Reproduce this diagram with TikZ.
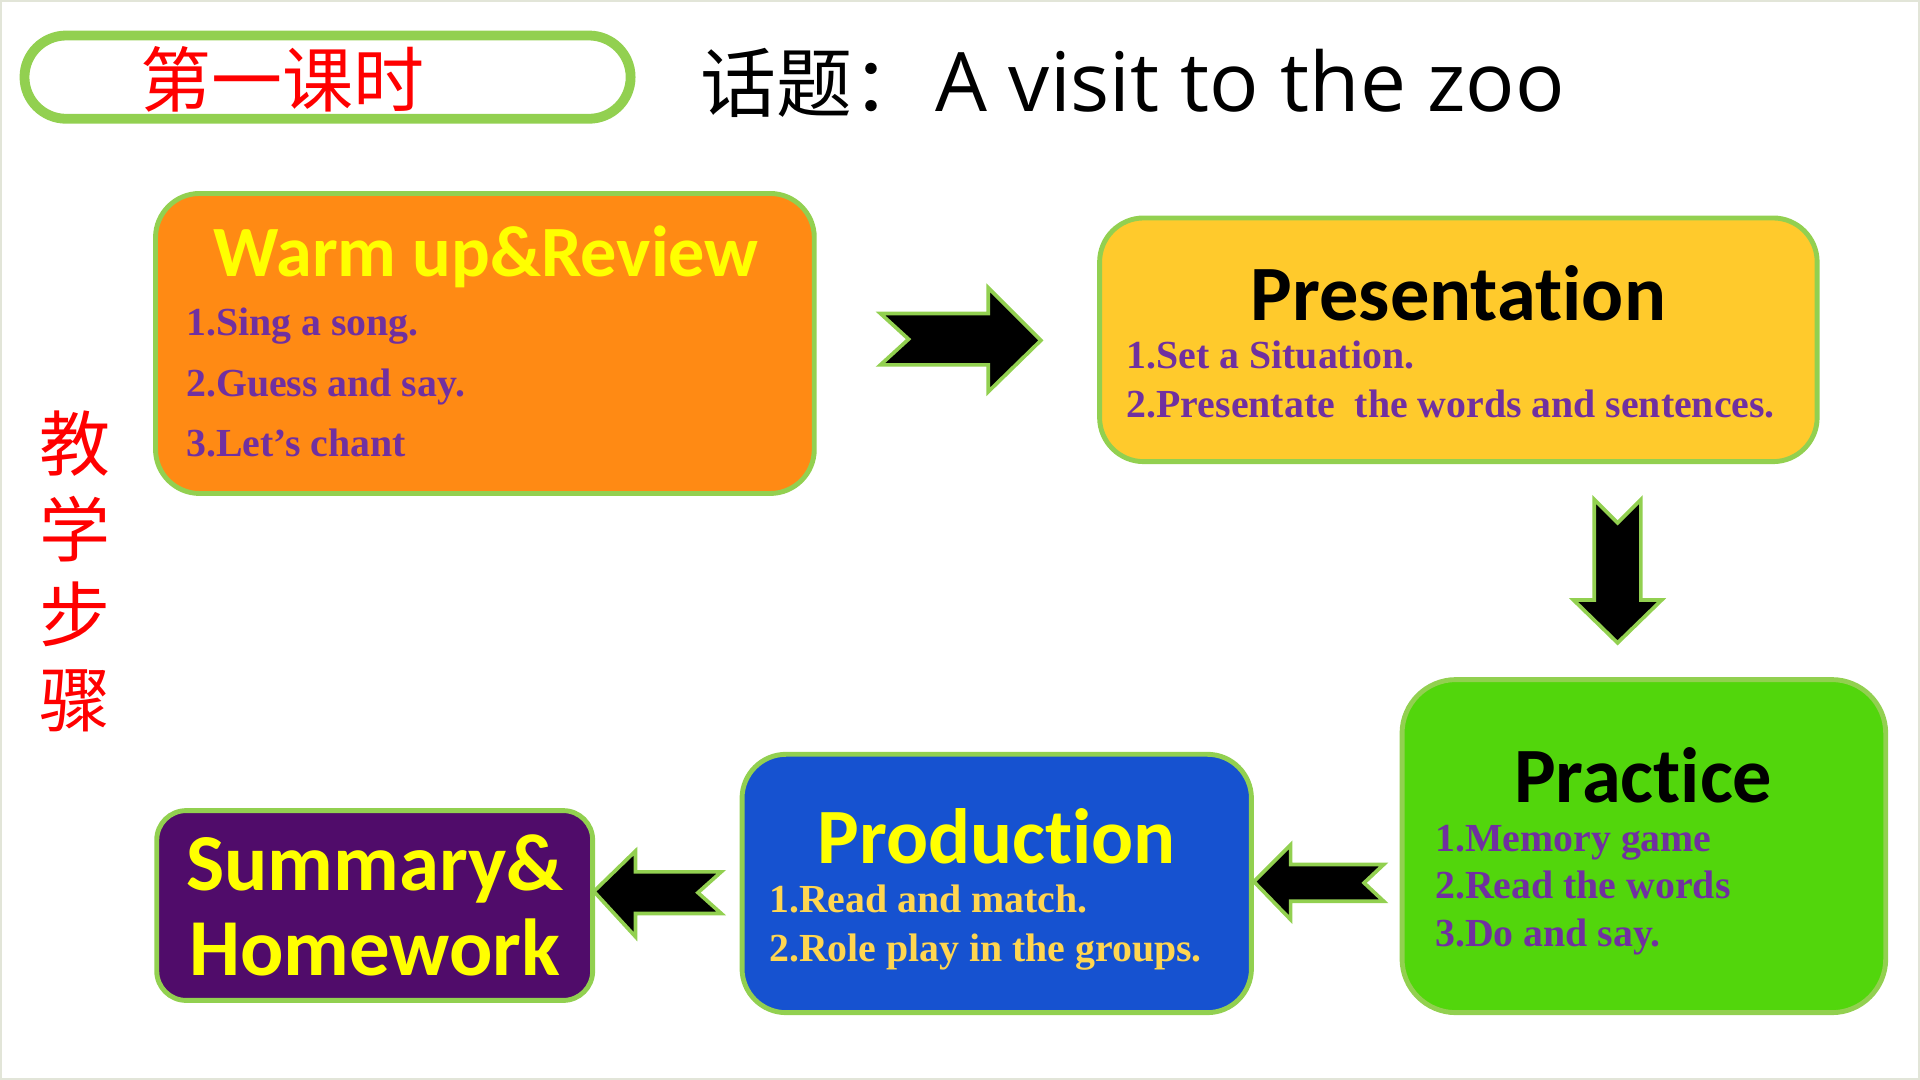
\documentclass[tikz,border=0pt]{standalone}
\usepackage{fontspec}
\setmainfont{Liberation Serif}
\newfontfamily\headfont[RawFeature={-liga,-clig,-dlig,-calt}]{Carlito}
\newfontfamily\cjk{Noto Sans CJK SC}
\newfontfamily\latin{Open Sans}
\usetikzlibrary{positioning}

\definecolor{lgreen}{RGB}{146,208,80}
\definecolor{warmfill}{RGB}{255,138,20}
\definecolor{presfill}{RGB}{255,202,44}
\definecolor{pracfill}{RGB}{82,214,12}
\definecolor{prodfill}{RGB}{22,82,208}
\definecolor{summfill}{RGB}{80,12,106}
\definecolor{itempurple}{RGB}{112,48,160}
\definecolor{itemgold}{RGB}{255,214,80}
\definecolor{hiyellow}{RGB}{255,255,0}
\definecolor{framegray}{RGB}{226,229,216}

\tikzset{
  stepbox/.style={draw=lgreen, line width=4pt, rounded corners=36pt, inner sep=0pt},
  heading/.style={anchor=base, inner sep=0pt, font=\headfont\bfseries\fontsize{64}{70}\selectfont},
  item/.style={anchor=base west, inner sep=0pt, font=\bfseries\fontsize{32.5}{36}\selectfont},
  blkarrow/.style={fill=black, draw=lgreen, line width=3pt, line join=miter},
  redcjk/.style={text=red, inner sep=0pt, font=\cjk\fontsize{58}{60}\selectfont}
}

\begin{document}
\begin{tikzpicture}[x=1pt, y=-1pt]
\useasboundingbox (0,0) rectangle (1568,882);
\draw[framegray, line width=1.5pt] (0.75,0.75) rectangle (1567.25,881.25);

% title line
\node[draw=lgreen, line width=8pt, rounded corners=34pt, minimum width=495pt, minimum height=68pt, inner sep=0pt] (pill) at (267.5,63) {};
\node[redcjk] (lesson) at (231,65) {第一课时};
\node[anchor=base west, inner sep=0pt, font=\cjk\fontsize{62}{66}\selectfont] (topic) at (572,91) {话题：\hspace{6pt}{\latin\fontsize{67}{70}\selectfont A visit to the zoo}};

\foreach \ch [count=\i] in {教,学,步,骤}
  \node[redcjk] (side\i) at (61,{292+70*\i}) {\ch};

% boxes
\node[stepbox, fill=warmfill, minimum width=538pt, minimum height=245pt] (warm) at (396,280.5) {};
\node[stepbox, fill=presfill, minimum width=586pt, minimum height=199pt] (pres) at (1191,277.5) {};
\node[stepbox, fill=pracfill, minimum width=395pt, minimum height=272pt, rounded corners=44pt] (prac) at (1342.5,691) {};
\node[stepbox, fill=prodfill, minimum width=416pt, minimum height=211pt] (prod) at (814,721.5) {};
\node[stepbox, fill=summfill, minimum width=356pt, minimum height=155pt, rounded corners=24pt] (summ) at (306,739.5) {};

\node[heading, text=hiyellow, font=\headfont\bfseries\fontsize{59}{64}\selectfont] (warmT) at (397,226) {Warm up\&Review};
\node[item, text=itempurple] (warm1) at (152,274) {1.Sing a song.};
\node[item, text=itempurple] (warm2) at (152,324) {2.Guess and say.};
\node[item, text=itempurple] (warm3) at (152,373) {3.Let’s chant};

\node[heading, text=black] (presT) at (1191,262) {Presentation};
\node[item, text=itempurple] (pres1) at (920,301) {1.Set a Situation.};
\node[item, text=itempurple] (pres2) at (920,341) {2.Presentate\ \ the words and sentences.};

\node[heading, text=black] (pracT) at (1342,655) {Practice};
\node[item, text=itempurple] (prac1) at (1172,695) {1.Memory game};
\node[item, text=itempurple] (prac2) at (1172,734) {2.Read the words};
\node[item, text=itempurple] (prac3) at (1172,773) {3.Do and say.};

\node[heading, text=hiyellow] (prodT) at (814,705) {Production};
\node[item, text=itemgold] (prod1) at (628,745) {1.Read and match.};
\node[item, text=itemgold] (prod2) at (628,785) {2.Role play in the groups.};

\node[heading, text=hiyellow, font=\headfont\bfseries\fontsize{66}{70}\selectfont] (summT) at (306,727) {Summary\&};
\node[heading, text=hiyellow, font=\headfont\bfseries\fontsize{66}{70}\selectfont] (summB) at (306,797) {Homework};

% arrows
\draw[blkarrow] (719,256) -- (807,256) -- (807,235) -- (850,278) -- (807,320) -- (807,298) -- (719,298) -- (742,277) -- cycle;
\draw[blkarrow] (1302,408) -- (1321,427) -- (1340,408) -- (1340,490) -- (1357,490) -- (1321,525) -- (1285,490) -- (1302,490) -- cycle;
\draw[blkarrow] (1130,706) -- (1054,706) -- (1054,690) -- (1024,720) -- (1054,751) -- (1054,736) -- (1130,736) -- (1114,721) -- cycle;
\draw[blkarrow] (589,712) -- (519,712) -- (519,695) -- (485,728) -- (519,765) -- (519,746) -- (589,746) -- (570,729) -- cycle;
\end{tikzpicture}
\end{document}
